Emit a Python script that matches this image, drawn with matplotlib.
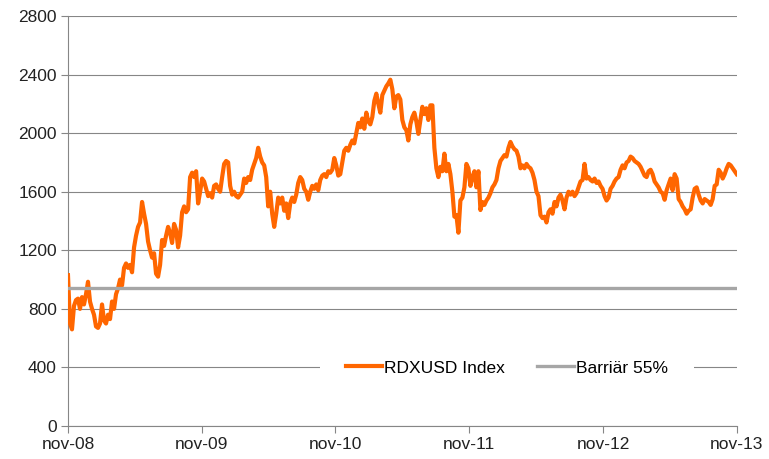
import numpy as np
import pandas as pd
import matplotlib
matplotlib.use("Agg")
import matplotlib.pyplot as plt
import matplotlib.dates as mdates

plt.rcParams['font.family'] = ['Liberation Sans', 'DejaVu Sans']

# --- Data: RDXUSD index (approx. weekly closes) ---
start_date = "2008-11-01"
end_date = "2013-11-01"
index_values = [
    1030, 700, 660, 820, 860, 870, 800, 880, 830, 900, 985, 850, 800, 760, 680, 670,
    700, 830, 720, 700, 760, 730, 850, 800, 900, 940, 1000, 960, 1080, 1110, 1080, 1100,
    1050, 1220, 1300, 1360, 1390, 1530, 1450, 1380, 1260, 1200, 1150, 1180, 1040, 1020, 1100, 1270,
    1230, 1300, 1360, 1320, 1250, 1380, 1340, 1220, 1300, 1460, 1500, 1460, 1480, 1700, 1730, 1700,
    1740, 1520, 1600, 1690, 1670, 1620, 1570, 1590, 1560, 1640, 1650, 1620, 1600, 1700, 1790, 1810,
    1800, 1640, 1580, 1600, 1570, 1560, 1580, 1600, 1690, 1660, 1700, 1680, 1750, 1790, 1830, 1900,
    1840, 1800, 1780, 1700, 1500, 1600, 1450, 1360, 1450, 1560, 1520, 1560, 1470, 1520, 1420, 1520,
    1560, 1530, 1580, 1660, 1700, 1680, 1620, 1600, 1545, 1600, 1640, 1620, 1650, 1610, 1680, 1710,
    1720, 1700, 1740, 1730, 1750, 1830, 1780, 1710, 1720, 1800, 1880, 1900, 1880, 1920, 1950, 1930,
    2000, 2070, 2040, 2100, 2030, 2140, 2080, 2060, 2110, 2220, 2270, 2200, 2140, 2260, 2290, 2320,
    2340, 2365, 2300, 2170, 2250, 2260, 2230, 2090, 2040, 2020, 1950, 2060, 2110, 2140, 2080, 1995,
    2090, 2180, 2130, 2170, 2090, 2190, 2190, 1900, 1760, 1700, 1770, 1740, 1860, 1740, 1790, 1720,
    1600, 1430, 1440, 1320, 1540, 1560, 1630, 1790, 1760, 1640, 1700, 1740, 1630, 1740, 1475, 1530,
    1510, 1540, 1560, 1590, 1630, 1650, 1680, 1760, 1810, 1830, 1850, 1840, 1900, 1940, 1910, 1890,
    1880, 1840, 1760, 1780, 1760, 1790, 1770, 1760, 1730, 1680, 1600, 1570, 1440, 1420, 1430, 1390,
    1460, 1480, 1450, 1530, 1500, 1560, 1580, 1540, 1480, 1560, 1600, 1580, 1600, 1570, 1590, 1630,
    1670, 1680, 1790, 1690, 1700, 1680, 1670, 1690, 1660, 1670, 1640, 1620, 1570, 1540, 1560, 1620,
    1640, 1670, 1690, 1700, 1750, 1780, 1760, 1800, 1810, 1840, 1830, 1810, 1800, 1790, 1770, 1740,
    1710, 1700, 1740, 1750, 1720, 1670, 1650, 1630, 1600, 1590, 1545, 1610, 1650, 1690, 1610, 1720,
    1690, 1550, 1530, 1500, 1480, 1450, 1470, 1480, 1560, 1620, 1630, 1580, 1540, 1520, 1550, 1540,
    1530, 1510, 1550, 1640, 1650, 1750, 1730, 1690, 1720, 1760, 1790, 1780, 1760, 1740, 1720,
]
barrier_level = 945
tick_years = [2008, 2009, 2010, 2011, 2012, 2013]
y_ticks = [0, 400, 800, 1200, 1600, 2000, 2400, 2800]

dates = pd.date_range(start_date, end_date, periods=len(index_values))

# --- Plot ---
fig = plt.figure(figsize=(7.69, 4.59), dpi=100)
ax = fig.add_axes([0.0884, 0.0719, 0.8696, 0.8932])

ax.plot(dates, index_values, color="#FF6600", lw=3.0, solid_joinstyle="round",
        label="RDXUSD Index", zorder=3)
ax.plot([dates[0], dates[-1]], [barrier_level, barrier_level], color="#A6A6A6",
        lw=2.4, label="Barriär 55%", zorder=4)

ax.set_xlim(pd.Timestamp(start_date), pd.Timestamp(end_date))
ax.set_ylim(0, 2800)
ax.set_yticks(y_ticks)
ax.set_xticks([pd.Timestamp(f"{y}-11-01") for y in tick_years])
ax.xaxis.set_major_formatter(mdates.DateFormatter("nov-%y"))

ax.grid(axis="y", color="#868686", lw=0.8)
ax.set_axisbelow(True)
for s in ["top", "right"]:
    ax.spines[s].set_visible(False)
for s in ["left", "bottom"]:
    ax.spines[s].set_color("#868686")
    ax.spines[s].set_linewidth(0.8)
ax.tick_params(axis="both", colors="#868686", length=5, width=0.8,
               labelcolor="#222222", labelsize=12.5)
ax.tick_params(axis="x", pad=3)
ax.tick_params(axis="y", pad=3)

leg = ax.legend(loc="center", bbox_to_anchor=(0.656, 0.1415), ncol=2, frameon=True,
                fontsize=12.5, handlelength=2.1, handletextpad=0.12, columnspacing=1.85,
                borderpad=0.4, borderaxespad=0)
leg.get_frame().set_facecolor("white")
leg.get_frame().set_edgecolor("none")
leg.get_frame().set_alpha(1)
leg.get_frame().set_boxstyle("square", pad=1.1)
leg.set_zorder(5)

fig.savefig("out.png", dpi=100)
